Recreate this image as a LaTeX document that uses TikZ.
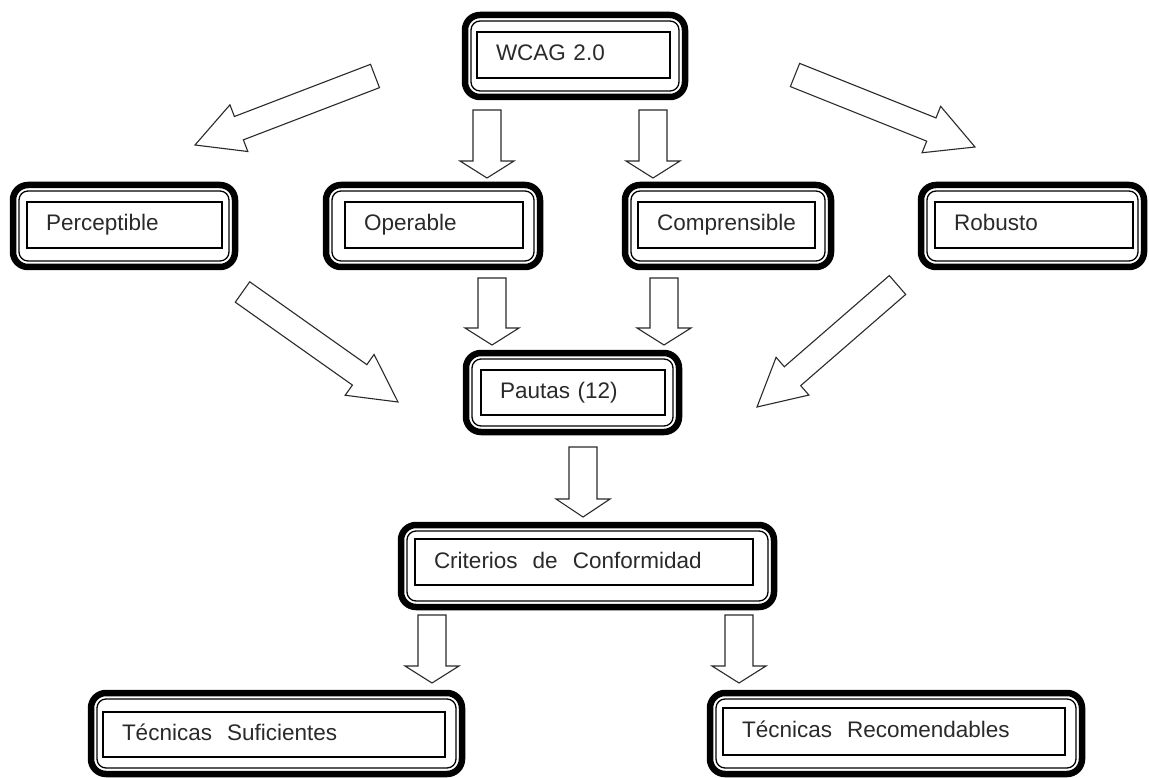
\documentclass[tikz,border=0pt]{standalone}
\usepackage{fontspec}
\setmainfont{Liberation Sans}
\usetikzlibrary{calc}
\definecolor{inkgray}{HTML}{2A2A2A}
\tikzset{
  outerbox/.style={draw=black, line width=6.5pt, rounded corners=15pt, fill=white, inner sep=0pt,
    path picture={\draw[black, line width=1.3pt, rounded corners=9pt]
      ([shift={(6pt,-6pt)}]path picture bounding box.north west) rectangle
      ([shift={(-6pt,6pt)}]path picture bounding box.south east);}},
  textbox/.style={draw=black, line width=1.3pt, fill=white, align=left, inner xsep=19pt, inner ysep=0pt,
    text height=16.5pt, text depth=4.5pt,
    text=inkgray, font=\fontsize{22.5}{27}\selectfont},
  arrowshape/.style={draw=inkgray, line width=1.1pt, fill=white, line join=miter}
}
% block arrow: #1 tail, #2 tip, #3 half shaft width, #4 half head width, #5 head length
\newcommand\blockarr[5]{%
  \coordinate (hb) at ($(#2)!#5!(#1)$);
  \draw[arrowshape] ($(#1)!#3!90:(#2)$) -- ($(hb)!#3!90:(#2)$) -- ($(hb)!#4!90:(#2)$) -- (#2)
    -- ($(hb)!#4!-90:(#2)$) -- ($(hb)!#3!-90:(#2)$) -- ($(#1)!#3!-90:(#2)$) -- cycle;
}
\begin{document}
\begin{tikzpicture}[x=1pt, y=-1pt]
\useasboundingbox[fill=white] (0,0) rectangle (1149,778);

% outer frames
\node[outerbox, minimum width=220pt, minimum height=82pt] (wcag) at (575,56) {};
\node[outerbox, minimum width=222pt, minimum height=82pt] (perc) at (124,226) {};
\node[outerbox, minimum width=214pt, minimum height=82pt] (oper) at (433,226) {};
\node[outerbox, minimum width=206pt, minimum height=82pt] (comp) at (728,226) {};
\node[outerbox, minimum width=223pt, minimum height=82pt] (robu) at (1032.5,226) {};
\node[outerbox, minimum width=213pt, minimum height=79pt] (paut) at (572.5,392.5) {};
\node[outerbox, minimum width=373pt, minimum height=82pt] (crit) at (587.5,566) {};
\node[outerbox, minimum width=371pt, minimum height=81pt] (tsuf) at (276.5,733.5) {};
\node[outerbox, minimum width=372pt, minimum height=81pt] (trec) at (896,733.5) {};

% text boxes
\node[textbox, minimum width=193pt, minimum height=46pt, text width=155pt] (wcagt) at (573.5,55) {WCAG 2.0};
\node[textbox, minimum width=195pt, minimum height=46pt, text width=157pt] (perct) at (124.5,225) {Perceptible};
\node[textbox, minimum width=178pt, minimum height=46pt, text width=140pt] (opert) at (434,225) {Operable};
\node[textbox, minimum width=177pt, minimum height=46pt, text width=139pt] (compt) at (726.5,225) {Comprensible};
\node[textbox, minimum width=198pt, minimum height=46pt, text width=160pt] (robut) at (1034,225) {Robusto};
\node[textbox, minimum width=184pt, minimum height=45pt, text width=146pt] (pautt) at (573,392.5) {Pautas (12)};
\node[textbox, minimum width=338pt, minimum height=46pt, text width=300pt] (critt) at (584,562) {Criterios\ \ de\ \ Conformidad};
\node[textbox, minimum width=342pt, minimum height=45pt, text width=304pt] (tsuft) at (274,734.5) {Técnicas\ \ Suficientes};
\node[textbox, minimum width=342pt, minimum height=47pt, text width=304pt] (trect) at (894,731.5) {Técnicas\ \ Recomendables};

% arrow end points
\coordinate (a1t) at (375,76);   \coordinate (a1h) at (195,145);
\coordinate (a2t) at (487,110);  \coordinate (a2h) at (487,178);
\coordinate (a3t) at (653,110);  \coordinate (a3h) at (653,178);
\coordinate (a4t) at (795,75);   \coordinate (a4h) at (975,147);
\coordinate (a5t) at (242.5,292);\coordinate (a5h) at (398,402);
\coordinate (a6t) at (492,278);  \coordinate (a6h) at (492,345);
\coordinate (a7t) at (664,278);  \coordinate (a7h) at (664,345);
\coordinate (a8t) at (897.5,285);\coordinate (a8h) at (757,407);
\coordinate (a9t) at (583,447);  \coordinate (a9h) at (583,517);
\coordinate (a10t) at (432,615); \coordinate (a10h) at (432,683);
\coordinate (a11t) at (739,615); \coordinate (a11h) at (739,683);

% arrows
\blockarr{a1t}{a1h}{12.5pt}{25pt}{47pt}
\blockarr{a2t}{a2h}{14pt}{27pt}{17pt}
\blockarr{a3t}{a3h}{14pt}{27pt}{17pt}
\blockarr{a4t}{a4h}{12.5pt}{25pt}{47pt}
\blockarr{a5t}{a5h}{12.5pt}{25pt}{47pt}
\blockarr{a6t}{a6h}{14pt}{27pt}{17pt}
\blockarr{a7t}{a7h}{14pt}{27pt}{17pt}
\blockarr{a8t}{a8h}{12.5pt}{25pt}{47pt}
\blockarr{a9t}{a9h}{14pt}{27pt}{18pt}
\blockarr{a10t}{a10h}{14pt}{27pt}{17pt}
\blockarr{a11t}{a11h}{14pt}{27pt}{17pt}
\end{tikzpicture}
\end{document}
